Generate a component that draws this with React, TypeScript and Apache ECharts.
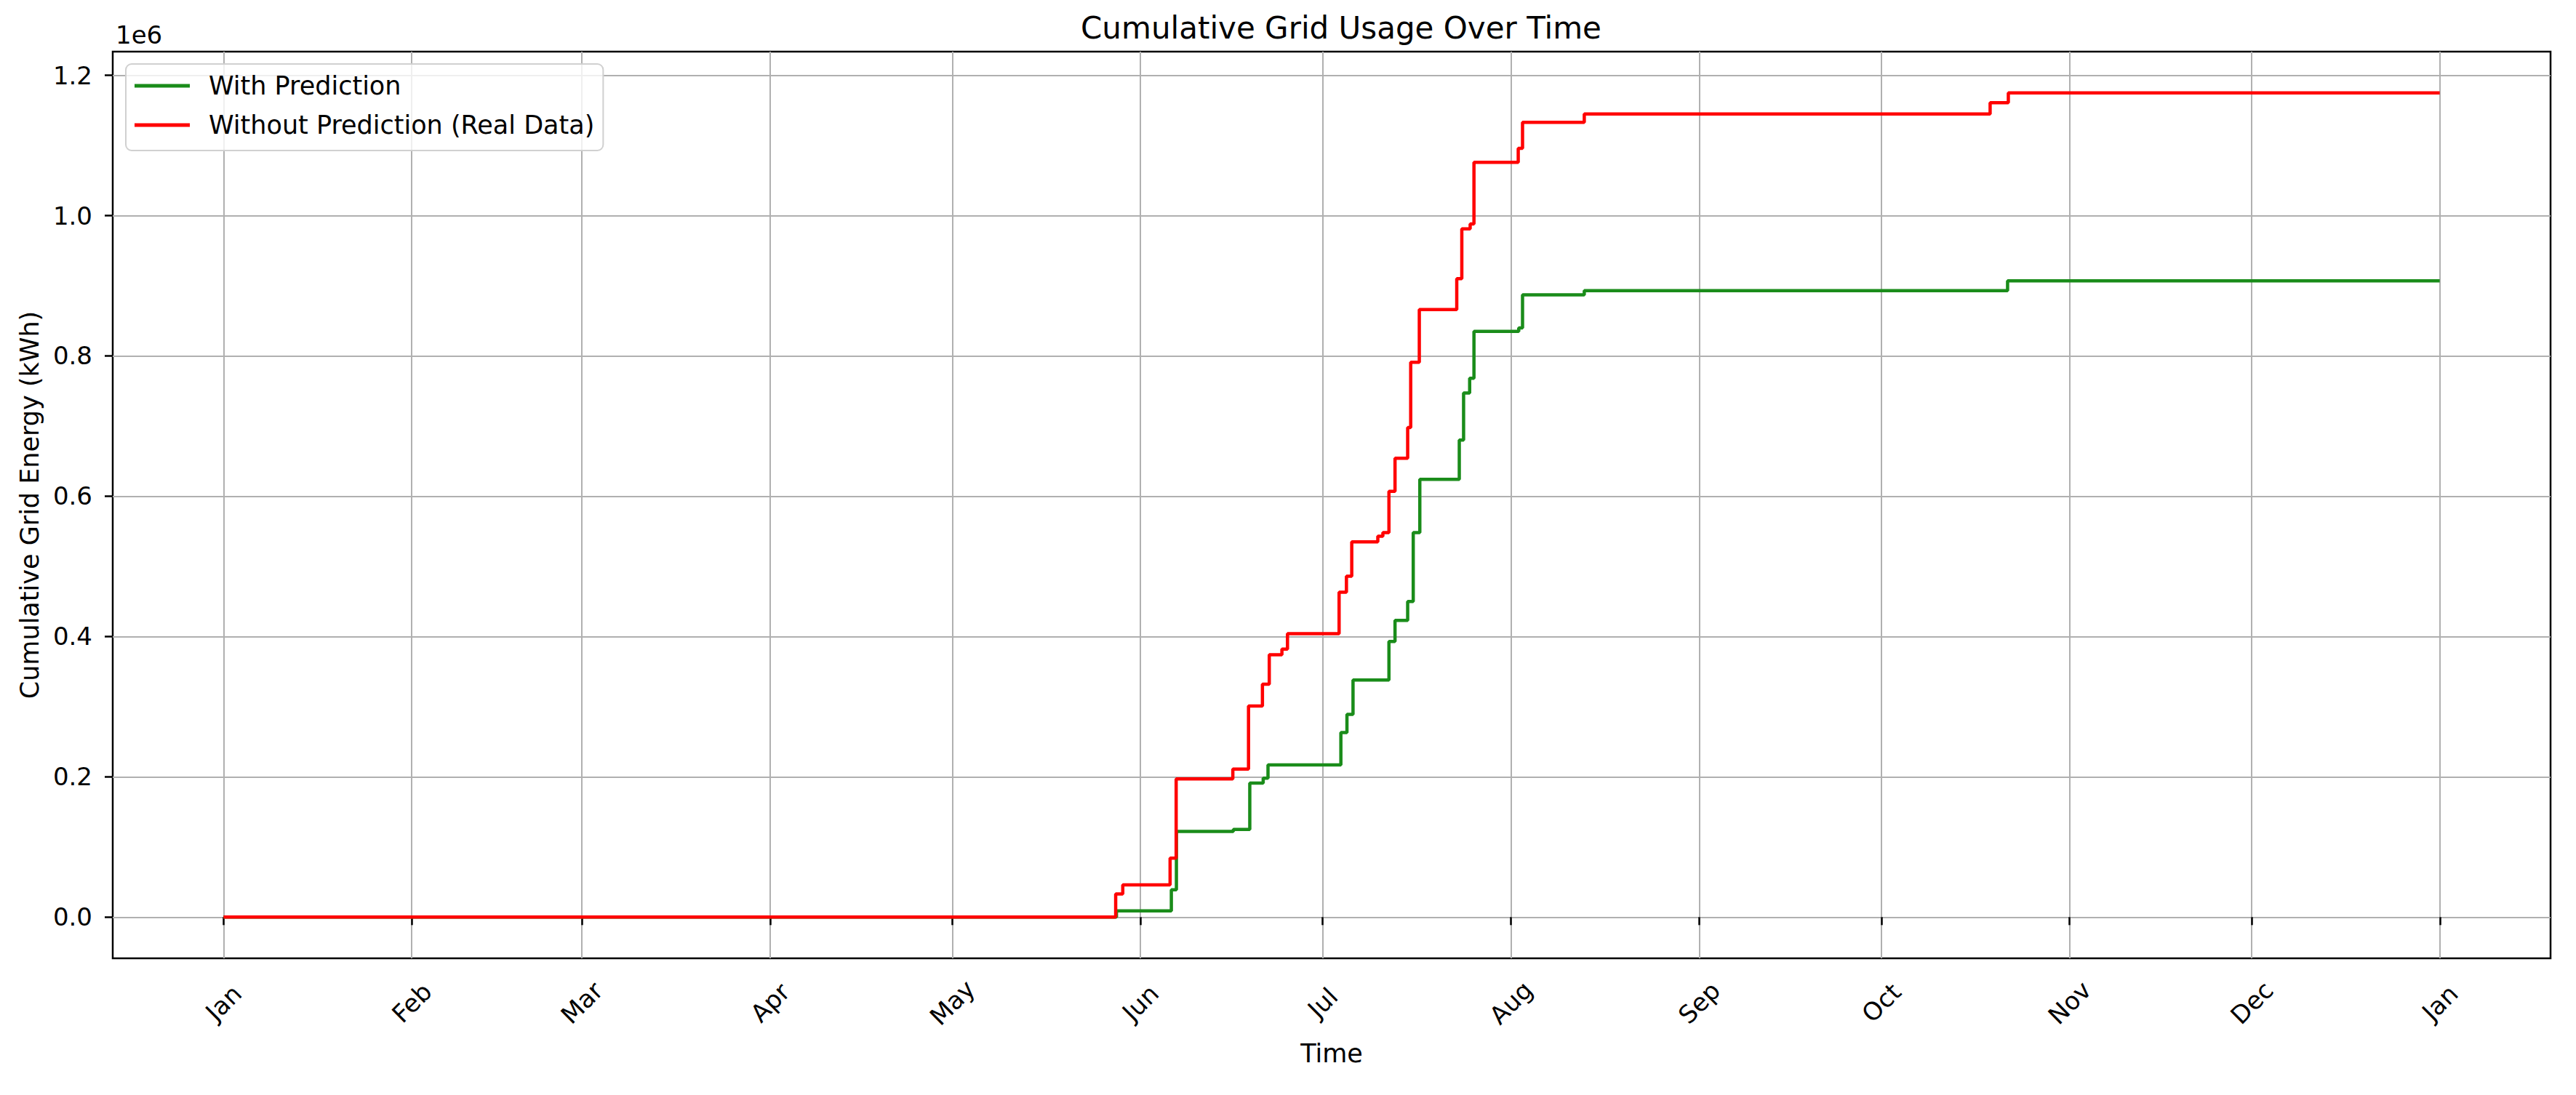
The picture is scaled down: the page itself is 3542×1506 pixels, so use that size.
import { useEffect, useRef } from 'react';
import * as echarts from 'echarts';

const FONT = 'DejaVu Sans';

// step breakpoints: value holds from its time until the next one
const PRED_TIMES = [
  '2023-01-01 00:00', '2023-05-28 01:00', '2023-06-06 02:00', '2023-06-06 22:00',
  '2023-06-16 07:00', '2023-06-19 00:00', '2023-06-21 05:00', '2023-06-22 00:00',
  '2023-07-04 00:00', '2023-07-05 00:00', '2023-07-06 00:00', '2023-07-11 22:00',
  '2023-07-12 22:00', '2023-07-15 00:00', '2023-07-15 22:00', '2023-07-17 00:00',
  '2023-07-23 12:00', '2023-07-24 05:00', '2023-07-25 05:00', '2023-07-25 22:00',
  '2023-08-02 07:00', '2023-08-02 22:00', '2023-08-13 02:00', '2023-10-21 19:00',
  '2023-12-31 23:00',
];
const PRED_VALUES = [
  0, 9000, 39000, 122000,
  125000, 191000, 198000, 217000,
  263000, 289000, 338000, 393000,
  423000, 450000, 548000, 624000,
  680000, 747000, 768000, 835000,
  840000, 887000, 893000, 907000,
  907000,
];

const REAL_TIMES = [
  '2023-01-01 00:00', '2023-05-27 22:00', '2023-05-29 02:00', '2023-06-05 21:00',
  '2023-06-06 21:00', '2023-06-16 05:00', '2023-06-18 19:00', '2023-06-21 02:00',
  '2023-06-22 05:00', '2023-06-24 07:00', '2023-06-25 05:00', '2023-07-03 17:00',
  '2023-07-04 22:00', '2023-07-05 19:00', '2023-07-10 02:00', '2023-07-10 22:00',
  '2023-07-11 22:00', '2023-07-12 22:00', '2023-07-15 00:00', '2023-07-15 12:00',
  '2023-07-16 22:00', '2023-07-23 02:00', '2023-07-23 22:00', '2023-07-25 07:00',
  '2023-07-25 22:00', '2023-08-02 05:00', '2023-08-02 22:00', '2023-08-13 02:00',
  '2023-10-18 22:00', '2023-10-21 22:00', '2023-12-31 23:00',
];
const REAL_VALUES = [
  0, 33000, 46000, 84000,
  197000, 211000, 301000, 332000,
  374000, 382000, 404000, 463000,
  486000, 535000, 543000, 548000,
  607000, 654000, 698000, 791000,
  866000, 910000, 981000, 988000,
  1076000, 1096000, 1133000, 1145000,
  1161000, 1175000, 1175000,
];

const MONTH_TICKS = [
  '2023-01-01 00:00', '2023-02-01 00:00', '2023-03-01 00:00', '2023-04-01 00:00',
  '2023-05-01 00:00', '2023-06-01 00:00', '2023-07-01 00:00', '2023-08-01 00:00',
  '2023-09-01 00:00', '2023-10-01 00:00', '2023-11-01 00:00', '2023-12-01 00:00',
  '2024-01-01 00:00',
];
const MONTH_LABELS = ['Jan', 'Feb', 'Mar', 'Apr', 'May', 'Jun', 'Jul', 'Aug', 'Sep', 'Oct', 'Nov', 'Dec', 'Jan'];
const Y_TICKS = [0, 200000, 400000, 600000, 800000, 1000000, 1200000];

const ts = (s: string) => echarts.time.parse(s).getTime();

export default function App() {
  const chartRef = useRef<HTMLDivElement>(null);

  useEffect(() => {
    if (!chartRef.current) return;
    const chart = echarts.init(chartRef.current, null, { renderer: 'svg' });

    const predData = PRED_TIMES.map((t, i) => [ts(t), PRED_VALUES[i]]);
    const realData = REAL_TIMES.map((t, i) => [ts(t), REAL_VALUES[i]]);
    const tMin = ts(PRED_TIMES[0]);
    const tMax = ts(PRED_TIMES[PRED_TIMES.length - 1]);
    const pad = (tMax - tMin) * 0.05;
    const monthTicks = MONTH_TICKS.map(ts);

    const monthLabel = (v: number) => {
      let best = 0;
      monthTicks.forEach((m, i) => {
        if (Math.abs(m - v) < Math.abs(monthTicks[best] - v)) best = i;
      });
      return MONTH_LABELS[best];
    };

    const option: echarts.EChartsOption = {
      animation: false,
      backgroundColor: '#fff',
      textStyle: { fontFamily: FONT, color: '#000' },
      title: {
        text: 'Cumulative Grid Usage Over Time',
        left: 1831,
        top: 3,
        textAlign: 'center',
        textStyle: { fontFamily: FONT, fontSize: 42, fontWeight: 'normal', color: '#000', lineHeight: 44 },
      },
      legend: {
        orient: 'vertical',
        left: 165,
        top: 80,
        padding: [10, 12, 15, 12],
        itemGap: 14,
        itemWidth: 76,
        itemHeight: 5,
        icon: 'rect',
        backgroundColor: 'rgba(255,255,255,0.8)',
        borderColor: '#d0d0d0',
        borderWidth: 2,
        borderRadius: 8,
        textStyle: { fontFamily: FONT, fontSize: 35, color: '#000', lineHeight: 40, padding: [0, 0, 0, 21] },
        data: ['With Prediction', 'Without Prediction (Real Data)'],
      },
      grid: {
        left: 147,
        right: 27,
        top: 63,
        bottom: 180,
        show: true,
        borderColor: '#000',
        borderWidth: 2.5,
        containLabel: false,
      },
      xAxis: {
        type: 'value',
        min: tMin - pad,
        max: tMax + pad,
        name: 'Time',
        nameLocation: 'middle',
        nameGap: 113,
        nameTextStyle: { fontFamily: FONT, fontSize: 35, color: '#000' },
        axisLine: { show: false },
        axisTick: { show: true, length: 11, lineStyle: { color: '#000', width: 2.5 }, customValues: monthTicks },
        axisLabel: {
          customValues: monthTicks,
          rotate: 45,
          align: 'center',
          verticalAlign: 'middle',
          margin: 61,
          fontFamily: FONT,
          fontSize: 34,
          color: '#000',
          formatter: (v: number) => monthLabel(v),
        },
        splitLine: { show: true, lineStyle: { color: '#b0b0b0', width: 2 } },
      },
      yAxis: {
        type: 'value',
        min: -58750,
        max: 1233750,
        name: 'Cumulative Grid Energy (kWh)',
        nameLocation: 'middle',
        nameGap: 97,
        nameTextStyle: { fontFamily: FONT, fontSize: 35, color: '#000' },
        axisLine: { show: false },
        axisTick: { show: true, length: 11, lineStyle: { color: '#000', width: 2.5 }, customValues: Y_TICKS },
        axisLabel: {
          customValues: Y_TICKS,
          margin: 28,
          fontFamily: FONT,
          fontSize: 34,
          color: '#000',
          formatter: (v: number) => (v / 1e6).toFixed(1),
        },
        splitLine: { show: true, lineStyle: { color: '#b0b0b0', width: 2 } },
      },
      graphic: [
        {
          type: 'text',
          left: 151,
          top: 23,
          style: { text: '1e6', fontFamily: FONT, fontSize: 34, fill: '#000' },
        },
      ],
      series: [
        {
          name: 'With Prediction',
          type: 'line',
          step: 'end',
          showSymbol: false,
          color: '#1a8c1a',
          lineStyle: { color: '#1a8c1a', width: 4.5 },
          data: predData,
        },
        {
          name: 'Without Prediction (Real Data)',
          type: 'line',
          step: 'end',
          showSymbol: false,
          color: '#ff0000',
          lineStyle: { color: '#ff0000', width: 4.5 },
          data: realData,
        },
      ],
    };

    chart.setOption(option);
    return () => chart.dispose();
  }, []);

  return <div ref={chartRef} style={{ width: 3526, height: 1490 }} />;
}
